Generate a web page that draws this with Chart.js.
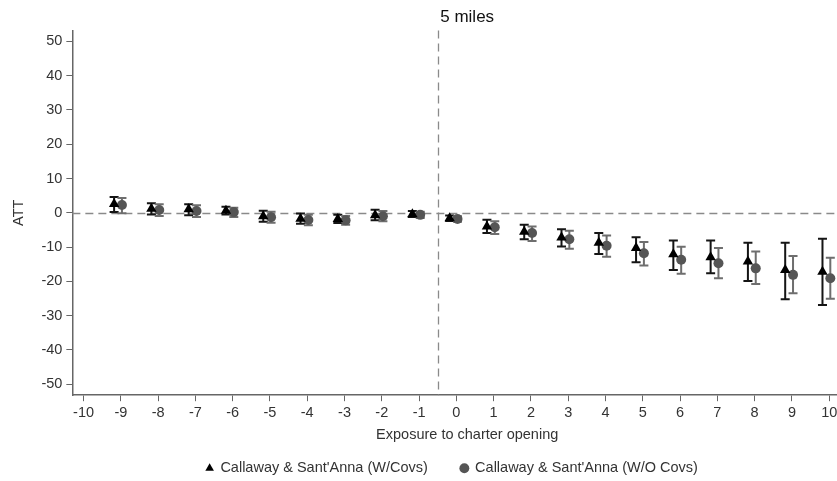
<!DOCTYPE html>
<html>
<head>
<meta charset="utf-8">
<script src="https://cdn.jsdelivr.net/npm/chart.js@4.4.0/dist/chart.umd.min.js"></script>
<style>
  html, body { margin: 0; padding: 0; background: #fff; overflow: hidden; }
  #wrap { width: 904px; height: 481px; }
</style>
</head>
<body>
<div id="wrap"><canvas id="c" width="904" height="481"></canvas></div>
<script>
// ---- data ----
const periods   = [-9, -8, -7, -6, -5, -4, -3, -2, -1, 0, 1, 2, 3, 4, 5, 6, 7, 8, 9, 10];
const covsATT   = [2.6, 1.2, 1.0, 0.6, -1.0, -1.7, -1.8, -0.7, -0.4, -1.6, -4.0, -5.5, -7.2, -8.7, -10.3, -12.1, -13.0, -14.2, -16.7, -17.2];
const covsLo    = [0.2, -0.5, -0.7, -0.5, -2.6, -3.2, -3.0, -2.2, -1.2, -2.4, -5.9, -7.7, -9.8, -12.0, -14.4, -16.7, -17.6, -19.9, -25.2, -26.9];
const covsHi    = [4.6, 2.8, 2.5, 1.8, 0.6, -0.2, -0.6, 0.9, 0.5, -0.8, -2.0, -3.5, -4.8, -5.9, -7.1, -8.1, -8.1, -8.7, -8.7, -7.6];
const nocovATT  = [2.3, 0.8, 0.5, 0.2, -1.3, -2.1, -2.2, -1.0, -0.6, -1.8, -4.2, -5.9, -7.7, -9.6, -11.8, -13.7, -14.7, -16.2, -18.1, -19.1];
const nocovLo   = [-0.1, -0.9, -1.2, -1.2, -2.9, -3.6, -3.5, -2.5, -1.5, -2.6, -6.2, -8.2, -10.5, -12.8, -15.4, -17.8, -19.1, -20.8, -23.5, -25.1];
const nocovHi   = [4.3, 2.5, 2.2, 1.5, 0.3, -0.6, -0.9, 0.5, 0.3, -1.0, -2.5, -4.0, -5.2, -6.6, -8.5, -9.9, -10.3, -11.3, -12.6, -13.1];
const xTicks    = [-10, -9, -8, -7, -6, -5, -4, -3, -2, -1, 0, 1, 2, 3, 4, 5, 6, 7, 8, 9, 10];
const yTicks    = [-50, -40, -30, -20, -10, 0, 10, 20, 30, 40, 50];
const treatLine = -0.5;
const seriesNames = ["Callaway & Sant'Anna (W/Covs)", "Callaway & Sant'Anna (W/O Covs)"];
const titleText = '5 miles';
const xTitle = 'Exposure to charter opening';
const yTitle = 'ATT';

const OFF_A = -0.18, OFF_B = 0.03;

function build(att, lo, hi, off) {
  return periods.map((p, i) => ({ x: p + off, y: att[i], lo: lo[i], hi: hi[i] }));
}

const FONT = "'Liberation Sans', Arial, sans-serif";
const TXT = '#333';
const FS = 14.5;

const refLines = {
  id: 'refLines',
  afterLayout(chart) {
    const l = chart.legend;
    if (l) { l.left += 18; l.right += 18; }
  },
  beforeDatasetsDraw(chart) {
    const { ctx, chartArea: a, scales: { x, y } } = chart;
    ctx.save();
    ctx.strokeStyle = '#8a8a8a';
    ctx.lineWidth = 1.3;
    ctx.setLineDash([8, 5]);
    const y0 = Math.round(y.getPixelForValue(0)) + 0.5;
    ctx.beginPath(); ctx.moveTo(a.left, y0); ctx.lineTo(a.right, y0); ctx.stroke();
    const xv = Math.round(x.getPixelForValue(treatLine)) + 0.5;
    ctx.beginPath(); ctx.moveTo(xv, a.top); ctx.lineTo(xv, a.bottom); ctx.stroke();
    ctx.restore();
    // error bars
    chart.data.datasets.forEach((ds) => {
      ctx.save();
      ctx.strokeStyle = ds.barColor;
      ctx.lineWidth = 2;
      ds.data.forEach(pt => {
        const px = x.getPixelForValue(pt.x);
        const pl = y.getPixelForValue(pt.lo);
        const ph = y.getPixelForValue(pt.hi);
        ctx.beginPath();
        ctx.moveTo(px, pl); ctx.lineTo(px, ph);
        ctx.moveTo(px - 4.5, pl); ctx.lineTo(px + 4.5, pl);
        ctx.moveTo(px - 4.5, ph); ctx.lineTo(px + 4.5, ph);
        ctx.stroke();
      });
      ctx.restore();
    });
  }
};

new Chart(document.getElementById('c'), {
  type: 'scatter',
  data: {
    datasets: [
      { label: seriesNames[0], data: build(covsATT, covsLo, covsHi, OFF_A),
        pointStyle: 'triangle', pointRadius: 6, backgroundColor: '#000', borderColor: '#000', borderWidth: 0,
        barColor: '#151515' },
      { label: seriesNames[1], data: build(nocovATT, nocovLo, nocovHi, OFF_B),
        pointStyle: 'circle', pointRadius: 5, backgroundColor: '#555', borderColor: '#555', borderWidth: 0,
        barColor: '#6e6e6e' }
    ]
  },
  options: {
    responsive: false,
    animation: false,
    layout: { padding: { left: 6, right: 42, top: 0, bottom: 0 } },
    plugins: {
      title: { display: true, text: titleText, fullSize: false, color: '#111',
        font: { family: FONT, size: 17, weight: 'normal' }, padding: { top: 7, bottom: 3 } },
      legend: { position: 'bottom', fullSize: true, maxHeight: 53,
        labels: { usePointStyle: true, boxWidth: 7, boxHeight: 7, color: TXT, padding: 33,
          font: { family: FONT, size: FS },
          generateLabels(chart) {
            return chart.data.datasets.map((ds, i) => ({
              text: ds.label, fillStyle: ds.backgroundColor, strokeStyle: ds.backgroundColor,
              lineWidth: 0, pointStyle: ds.pointStyle, datasetIndex: i, hidden: false, fontColor: TXT
            }));
          } } },
      tooltip: { enabled: false }
    },
    scales: {
      x: {
        type: 'linear', min: -10.3, max: 10.88,
        afterBuildTicks(s) { s.ticks = xTicks.map(v => ({ value: v })); },
        grid: { display: true, drawOnChartArea: false, drawTicks: true, tickLength: 6, color: '#666', lineWidth: 1 },
        border: { display: true, color: '#666', width: 1.5 },
        ticks: { color: TXT, font: { family: FONT, size: FS }, padding: 3, autoSkip: false, maxRotation: 0 },
        title: { display: true, text: xTitle, color: TXT, font: { family: FONT, size: FS }, padding: { top: 2, bottom: -16 } }
      },
      y: {
        type: 'linear', min: -53.2, max: 53.2,
        afterBuildTicks(s) { s.ticks = yTicks.map(v => ({ value: v })); },
        grid: { display: true, drawOnChartArea: false, drawTicks: true, tickLength: 6, color: '#666', lineWidth: 1 },
        border: { display: true, color: '#666', width: 1.5 },
        ticks: { color: TXT, font: { family: FONT, size: FS }, padding: 4, autoSkip: false },
        title: { display: true, text: yTitle, color: TXT, font: { family: FONT, size: FS }, padding: { top: 4, bottom: 10 } }
      }
    }
  },
  plugins: [refLines]
});
</script>
</body>
</html>
